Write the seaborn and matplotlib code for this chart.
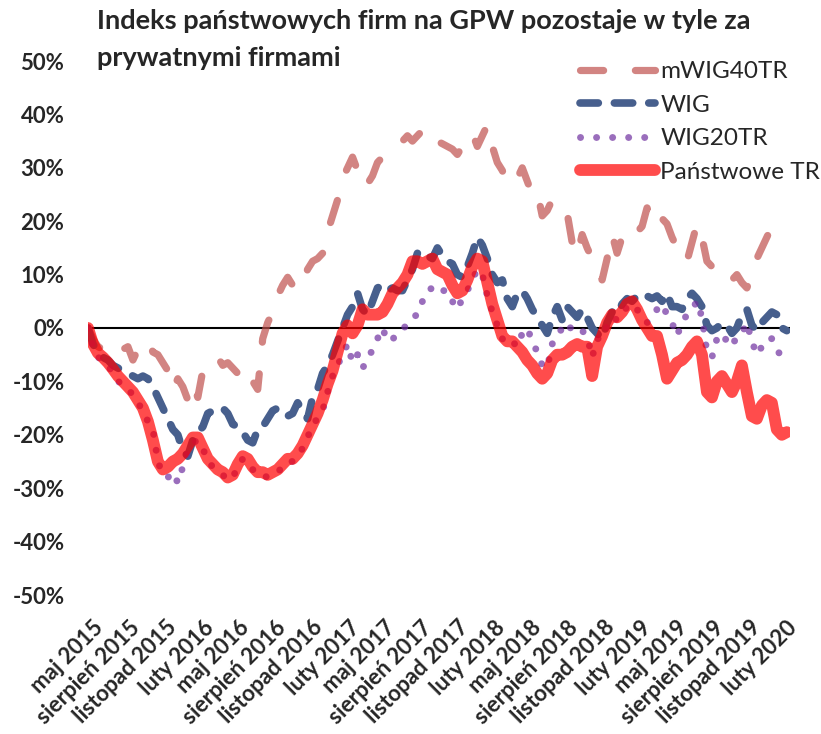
import numpy as np
import pandas as pd
import matplotlib
matplotlib.use("Agg")
import matplotlib.pyplot as plt
import matplotlib.transforms as mtransforms
import seaborn as sns

# ---------------- data (percent change since start) ----------------
start_date = "2015-05-01"
step = "300h"   # ~12.5 days between readings

mwig40tr = [0, -2, -3.5, -4, -3.5, -2.5, -3.5, -4, -3.5, -6, -4, -2.5, -2.5, -4.5, -5,
            -6.5, -8, -11.5, -9.5, -11, -13.5, -10.5, -13, -8, -6.5, -6, -5.5, -7, -6.5, -7.5,
            -8.5, -7, -9, -10, -11.5, -2, 1, 3, 6, 8, 9.5, 8, 7, 8.5, 11,
            12.5, 13, 14, 18, 21, 24, 28, 30, 32, 29.5, 30, 27, 28.5, 31, 32,
            33, 33.5, 34, 35, 36, 35, 36, 37, 37.5, 35.5, 35, 34.5, 34, 33.5, 32.5,
            34, 35, 36.5, 34, 36, 38, 34, 31, 29.5, 27, 27, 28, 30, 27.5, 25,
            25.5, 21, 22, 24, 23.5, 22, 21.5, 16, 13.5, 17.5, 15, 13, 11, 9, 13,
            17.5, 14, 17, 16, 16.5, 18, 19, 22.5, 20, 21.5, 20.5, 19.5, 17, 15, 13,
            12.5, 16, 19.5, 17, 12.5, 11.5, 12, 11, 10.5, 9, 10, 8.5, 7.5, 10, 13,
            15, 17, 19, 20.5, 20, 19.5]

wig = [0, -3, -4.5, -5.5, -6, -7, -7.5, -8, -8.5, -9, -9.5, -9, -9.5, -11, -13,
       -15, -17, -19, -20, -23, -24, -21, -19.5, -18.5, -16, -15.5, -15.5, -15, -16, -18,
       -18.5, -19.5, -21, -21.5, -19, -18.5, -17, -15.5, -15, -16, -16.5, -16, -14, -15.5, -17,
       -13, -11.5, -8.5, -7, -5, -2.5, 0, 2.5, 4, 6.5, 3.5, 2.5, 5, 7.5, 8,
       7, 7.5, 7, 7, 9, 11, 14, 14.5, 13.5, 13, 15, 13.5, 12.5, 12, 10,
       9.5, 11.5, 14, 17, 15.5, 13, 10, 8.5, 9, 5.5, 4, 6.5, 7, 5.5, 3.5,
       2, 0.5, -1, 2, 4, 1.5, 4, 3, 2, 3.5, 2, 0, -1, -2, 1,
       3, 2.5, 4.5, 5.5, 5, 6, 6.5, 6, 5.5, 6, 5, 6.5, 4, 4, 3.5,
       5.5, 6.5, 5.5, 4, 0.5, -0.5, 0, 1, 0.5, -1, 0, 2.5, 3.5, 0.5, -0.5,
       1, 2, 3, 2.5, 0, -0.5]

wig20tr = [0, -3.5, -5.5, -6, -7, -8.5, -10, -10.5, -11.5, -12.5, -14, -15.5, -17.5, -19, -25,
           -27.5, -28, -27, -29, -26, -23, -21.5, -21, -22.5, -25, -26, -27, -27.5, -28.5, -28,
           -26, -24.5, -25, -26.5, -27.5, -27.5, -28, -27.5, -27, -26, -25, -25, -24, -22.5, -20.5,
           -18, -17, -15.5, -12, -9, -7, -5, -3, -6.5, -5, -7.5, -6, -4, -2, 0,
           -2.5, -2, -1.5, -0.5, 1, 2, 2.5, 5, 7, 7.5, 6.5, 7, 7, 5, 3.5,
           5.5, 7, 9, 11, 10, 6, 3, 0.5, -2, -3, -2.5, -3.5, -1, 0, -2.5,
           -4.5, -7, -7.5, -3, -1.5, 0, 1, -0.5, -1, -0.5, -1.5, -5.5, -2, -2, 0.5,
           2, 1.5, 2.5, 4, 4.5, 3.5, 2, 1, 2, 3.5, 4.5, 2.5, 1, -1.5, 1,
           2.5, 3.5, 5, 2, -4.5, -5.5, -2, -1, -2.5, -3.5, -1.5, -1, 1, -2.5, -5,
           -3.5, -2, -2, -4, -5.5, -5]

panstwowe_tr = [0, -3, -4.7, -5.5, -6.5, -7.7, -9, -10, -11, -12, -13.5, -15, -17.5, -21, -25,
                -26.5, -26, -25, -24.5, -23.5, -22, -20.5, -20.5, -22.5, -24.5, -25.5, -26.5, -27, -28, -27.5,
                -25.5, -24, -24.5, -26, -27, -27, -27.5, -27, -26.5, -25.5, -24.5, -24.5, -23.5, -22, -20,
                -18, -16, -13.5, -10.5, -8, -4.5, -1, 0.5, -1, 0.5, 3.5, 2.5, 2.5, 2.5, 3,
                4.5, 6.5, 7.5, 8.5, 10, 12.5, 12.5, 12, 12.5, 13, 11, 10.5, 10, 8, 6.5,
                7, 9, 11.5, 13, 12.5, 8.5, 4.5, 1.5, -1.5, -2.5, -2.5, -3.5, -4.5, -6, -7,
                -8.5, -9.5, -8.5, -6, -5, -5, -4.5, -3.5, -3, -3.5, -3.5, -9, -3.5, -1.5, 1,
                2.5, 2, 3, 4.5, 5, 3.5, 1.5, 0, -1.5, -1.5, -5, -9.5, -8, -6.5, -6,
                -5, -3.5, -2.5, -5, -12, -13, -10, -9, -10.5, -12, -10, -7, -12, -16.5, -17,
                -14.5, -13.5, -14, -19, -20, -19.5]

series_names = ["mWIG40TR", "WIG", "WIG20TR", "Państwowe TR"]

tick_dates = pd.date_range("2015-05-01", "2020-02-01", freq="3MS")
tick_labels = ["maj 2015", "sierpień 2015", "listopad 2015", "luty 2016",
               "maj 2016", "sierpień 2016", "listopad 2016", "luty 2017",
               "maj 2017", "sierpień 2017", "listopad 2017", "luty 2018",
               "maj 2018", "sierpień 2018", "listopad 2018", "luty 2019",
               "maj 2019", "sierpień 2019", "listopad 2019", "luty 2020"]

y_ticks = [50, 40, 30, 20, 10, 0, -10, -20, -30, -40, -50]

title_lines = ["Indeks państwowych firm na GPW pozostaje w tyle za",
               "prywatnymi firmami"]

# ---------------- figure ----------------
sns.set_style("white")
plt.rcParams["font.family"] = ["Lato", "DejaVu Sans"]

W, H = 821, 734
fig = plt.figure(figsize=(W / 100, H / 100), dpi=100)
ax = fig.add_axes([88 / W, (H - 595) / H, (790 - 88) / W, (595 - 61) / H])

dates = pd.date_range(start_date, periods=len(panstwowe_tr), freq=step)
df = pd.DataFrame({"date": dates, "mWIG40TR": mwig40tr, "WIG": wig,
                   "WIG20TR": wig20tr, "Państwowe TR": panstwowe_tr})

styles = {
    "mWIG40TR": dict(color="#C0504D", alpha=0.7, lw=5.2, ls=(0, (3.2, 4.4))),
    "WIG": dict(color="#475F8D", alpha=1.0, lw=5.5, ls=(0, (2.4, 2.1))),
    "WIG20TR": dict(color="#7030A0", alpha=0.7, lw=5.0, ls=(0, (0.01, 2.3))),
    "Państwowe TR": dict(color="#FF0000", alpha=0.7, lw=8.5, ls="-"),
}

ax.axhline(0, color="black", lw=1.5, zorder=1)

for i, name in enumerate(series_names):
    st = styles[name]
    sns.lineplot(data=df, x="date", y=name, ax=ax, color=st["color"],
                 alpha=st["alpha"], lw=st["lw"], label=name, estimator=None,
                 legend=False, zorder=2 + i)
    line = ax.get_lines()[-1]
    line.set_linestyle(st["ls"])
    line.set_dash_capstyle("round")
    line.set_solid_capstyle("round")
    line.set_solid_joinstyle("round")
    line.set_dash_joinstyle("round")

ax.set_xlim(pd.Timestamp("2015-05-01"), pd.Timestamp("2020-02-22"))
ax.set_ylim(-50, 50)
ax.set_xlabel("")
ax.set_ylabel("")
for s in ax.spines.values():
    s.set_visible(False)

ax.set_yticks(y_ticks)
ax.set_yticklabels([f"{v}%" for v in y_ticks], fontsize=16, fontweight="bold")
ax.tick_params(axis="y", length=0, pad=17)

ax.set_xticks(tick_dates)
ax.set_xticklabels(tick_labels, fontsize=16, fontweight="bold", rotation=45,
                   ha="right", va="center", rotation_mode="anchor")
ax.tick_params(axis="x", length=0, pad=21)
offset = mtransforms.ScaledTranslation(12 / 100, 0, fig.dpi_scale_trans)
for lab in ax.get_xticklabels():
    lab.set_transform(lab.get_transform() + offset)

fig.text(97 / W, 1 - 29 / H, title_lines[0], ha="left", va="baseline",
         fontsize=19.5, fontweight="bold")
fig.text(97 / W, 1 - 66 / H, title_lines[1], ha="left", va="baseline",
         fontsize=19.5, fontweight="bold")

leg = ax.legend(loc="upper left", bbox_to_anchor=(580 / W, 1 - 61 / H),
                bbox_transform=fig.transFigure, frameon=False, fontsize=17.5,
                handlelength=3.1, handletextpad=0.2, labelspacing=0.52,
                borderpad=0, borderaxespad=0)

fig.savefig("out.png", dpi=100)
